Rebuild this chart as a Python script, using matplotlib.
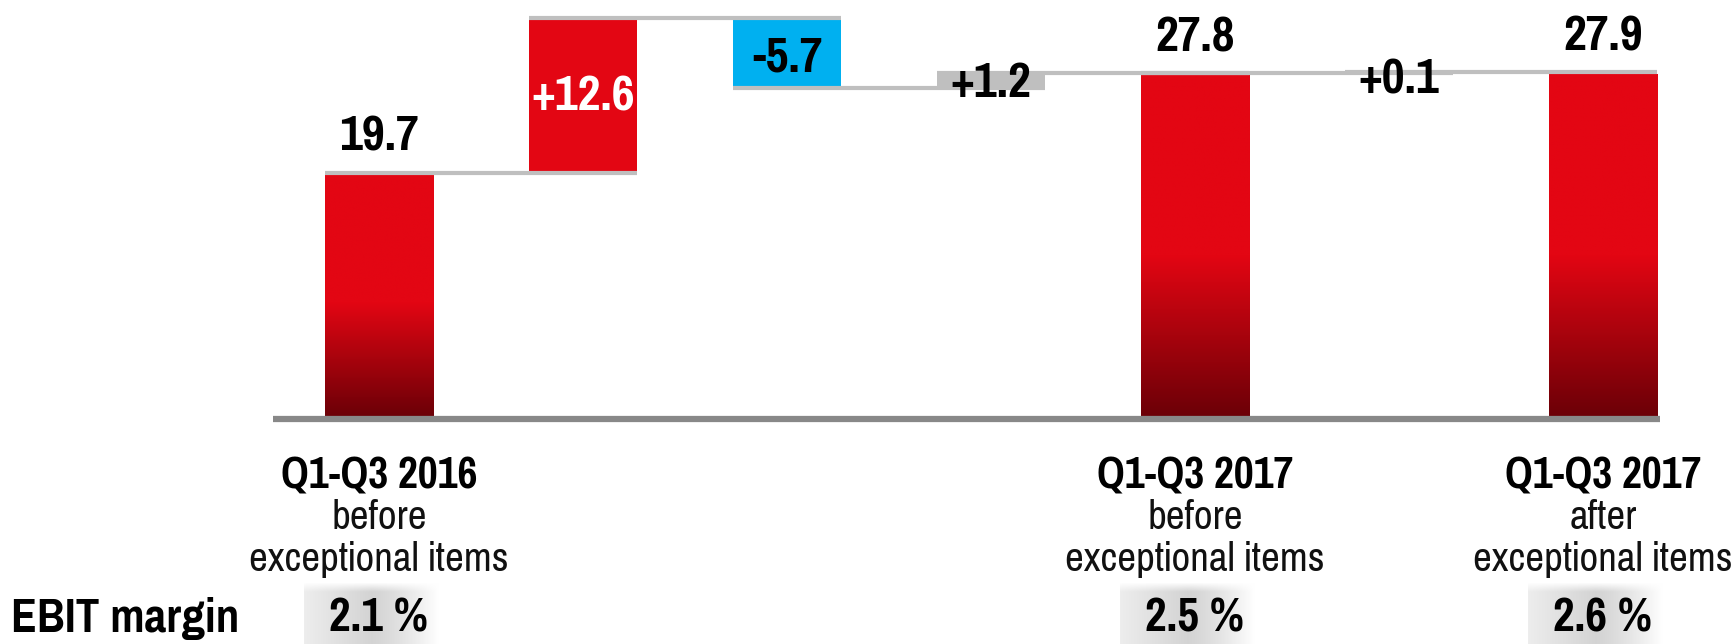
import numpy as np
import matplotlib
matplotlib.use('Agg')
import matplotlib.pyplot as plt
from matplotlib import font_manager as fm
from matplotlib.colors import LinearSegmentedColormap

# ---------------- data ----------------
values = [19.7, 12.6, -5.7, 1.2, 27.8, 0.1, 27.9]
kinds = ['total', 'up', 'down', 'other', 'total', 'other', 'total']
value_labels = ['19.7', '+12.6', '-5.7', '+1.2', '27.8', '+0.1', '27.9']
category_titles = ['Q1-Q3 2016', '', '', '', 'Q1-Q3 2017', '', 'Q1-Q3 2017']
category_line2 = ['before', '', '', '', 'before', '', 'after']
category_line3 = ['exceptional items', '', '', '', 'exceptional items', '', 'exceptional items']
margin_labels = ['2.1 %', '', '', '', '2.5 %', '', '2.6 %']
margin_title = 'EBIT margin'

# ---------------- style ----------------
RED = '#e30613'
DARK = '#6c0007'
BLUE = '#00b0f0'
GRAY = '#bfbfbf'
AXIS = '#888888'

faces = {}
for f in fm.fontManager.ttflist:
    if f.style == 'normal':
        faces.setdefault(f.name, set()).add(f.weight)
chosen = None
for cand in ['Liberation Sans Narrow', 'Pragati Narrow', 'PT Sans Narrow', 'Roboto Condensed',
             'Asap Condensed']:
    w = faces.get(cand, set())
    if 700 in w and 400 in w:
        chosen = cand
        break
if chosen:
    FAM = [chosen, 'DejaVu Sans']
    k = 1.0
else:
    FAM = ['Liberation Sans', 'DejaVu Sans']
    k = 0.88

plt.rcParams['font.family'] = FAM

fig = plt.figure(figsize=(17.36, 6.44), dpi=100)
ax = fig.add_axes([0, 0, 1, 1])
ax.set_xlim(-1.858, 6.652)
ax.set_ylim(-18.6, 33.9)
ax.axis('off')

# compute waterfall geometry
bottoms, heights, levels = [], [], []
running = 0.0
for v, kd in zip(values, kinds):
    if kd == 'total':
        bottoms.append(0.0)
        heights.append(v)
        running = v
    else:
        bottoms.append(running if v >= 0 else running + v)
        heights.append(abs(v))
        running += v
    levels.append(running)

colors = [{'total': RED, 'up': RED, 'down': BLUE, 'other': GRAY}[kd] for kd in kinds]

x = np.arange(len(values))
W = 0.53
bars = ax.bar(x, heights, bottom=bottoms, width=W, color=colors, linewidth=0, zorder=2)

# gradient for total bars: solid red top, darkening in the bottom part
cmap = LinearSegmentedColormap.from_list('rg', [(0, DARK), (0.47, RED), (1.0, RED)])
grad = np.linspace(0, 1, 256).reshape(-1, 1)
for b, kd in zip(bars, kinds):
    if kd == 'total':
        x0, y0 = b.get_x(), b.get_y()
        im = ax.imshow(grad, cmap=cmap, origin='lower', aspect='auto',
                       extent=[x0, x0 + b.get_width(), y0, y0 + b.get_height()],
                       zorder=2.5, interpolation='bilinear')
        im.set_clip_path(b)

# connectors
for i in range(len(values) - 1):
    ax.plot([x[i] - W / 2, x[i + 1] + W / 2], [levels[i] + 0.12, levels[i] + 0.12],
            color=GRAY, lw=3.0, solid_capstyle='butt', zorder=3)

# axis line
ax.plot([-0.52, 6.28], [-0.25, -0.25], color=AXIS, lw=4.5, solid_capstyle='butt', zorder=4)

VS = 39 * k
# value labels
for i, (lab, kd) in enumerate(zip(value_labels, kinds)):
    top = bottoms[i] + heights[i]
    if kd == 'total':
        ax.text(x[i], top + 3.0, lab, ha='center', va='center', fontsize=VS,
                fontweight='bold', color='black', zorder=5)
    elif kd == 'up':
        ax.text(x[i], bottoms[i] + heights[i] / 2, lab, ha='center', va='center',
                fontsize=VS, fontweight='bold', color='white', zorder=5)
    elif kd == 'down':
        ax.text(x[i], bottoms[i] + heights[i] / 2 - 0.3, lab, ha='center', va='center',
                fontsize=VS, fontweight='bold', color='black', zorder=5)
    else:
        yy = bottoms[i] + heights[i] / 2 - 0.1 if heights[i] > 0.5 else bottoms[i] - 0.4
        ax.text(x[i], yy, lab, ha='center', va='center', fontsize=VS,
                fontweight='bold', color='black', zorder=5)

# category labels
for i in range(len(values)):
    if category_titles[i]:
        ax.text(x[i], -4.95, category_titles[i], ha='center', va='center',
                fontsize=34 * k, fontweight='bold', color='black')
        ax.text(x[i], -8.3, category_line2[i], ha='center', va='center',
                fontsize=32 * k, color='#111111')
        ax.text(x[i], -11.75, category_line3[i], ha='center', va='center',
                fontsize=32 * k, color='#111111')

# EBIT margin row
ax.text(11 / 1736, (644 - 619) / 644, margin_title, transform=ax.transAxes,
        ha='left', va='center', fontsize=37 * k, fontweight='bold', color='black')

# gradient background for margins: light at left, darkest near middle, fading to white at right
nx = 200
t = np.linspace(0, 1, nx)
prof = np.where(t < 0.5, 0.93 - 0.10 * (t / 0.5), 0.83 + 0.17 * ((t - 0.5) / 0.5) ** 1.3)
ny = 60
s = np.linspace(0, 1, ny)
vfade = np.clip(s / 0.15, 0, 1)
img = np.ones((ny, nx, 3))
for r in range(ny):
    g = 1 - (1 - prof) * vfade[r]
    img[r, :, :] = g[:, None]
for i in range(len(values)):
    if margin_labels[i]:
        ax.imshow(img, extent=[x[i] - 0.37, x[i] + 0.29, -18.6, -13.6], origin='upper',
                  aspect='auto', zorder=0, interpolation='bilinear')
        ax.text(x[i], -16.5, margin_labels[i], ha='center', va='center',
                fontsize=37 * k, fontweight='bold', color='black', zorder=5)

ax.set_xlim(-1.858, 6.652)
ax.set_ylim(-18.6, 33.9)
fig.savefig('out.png', dpi=100, facecolor='white')
